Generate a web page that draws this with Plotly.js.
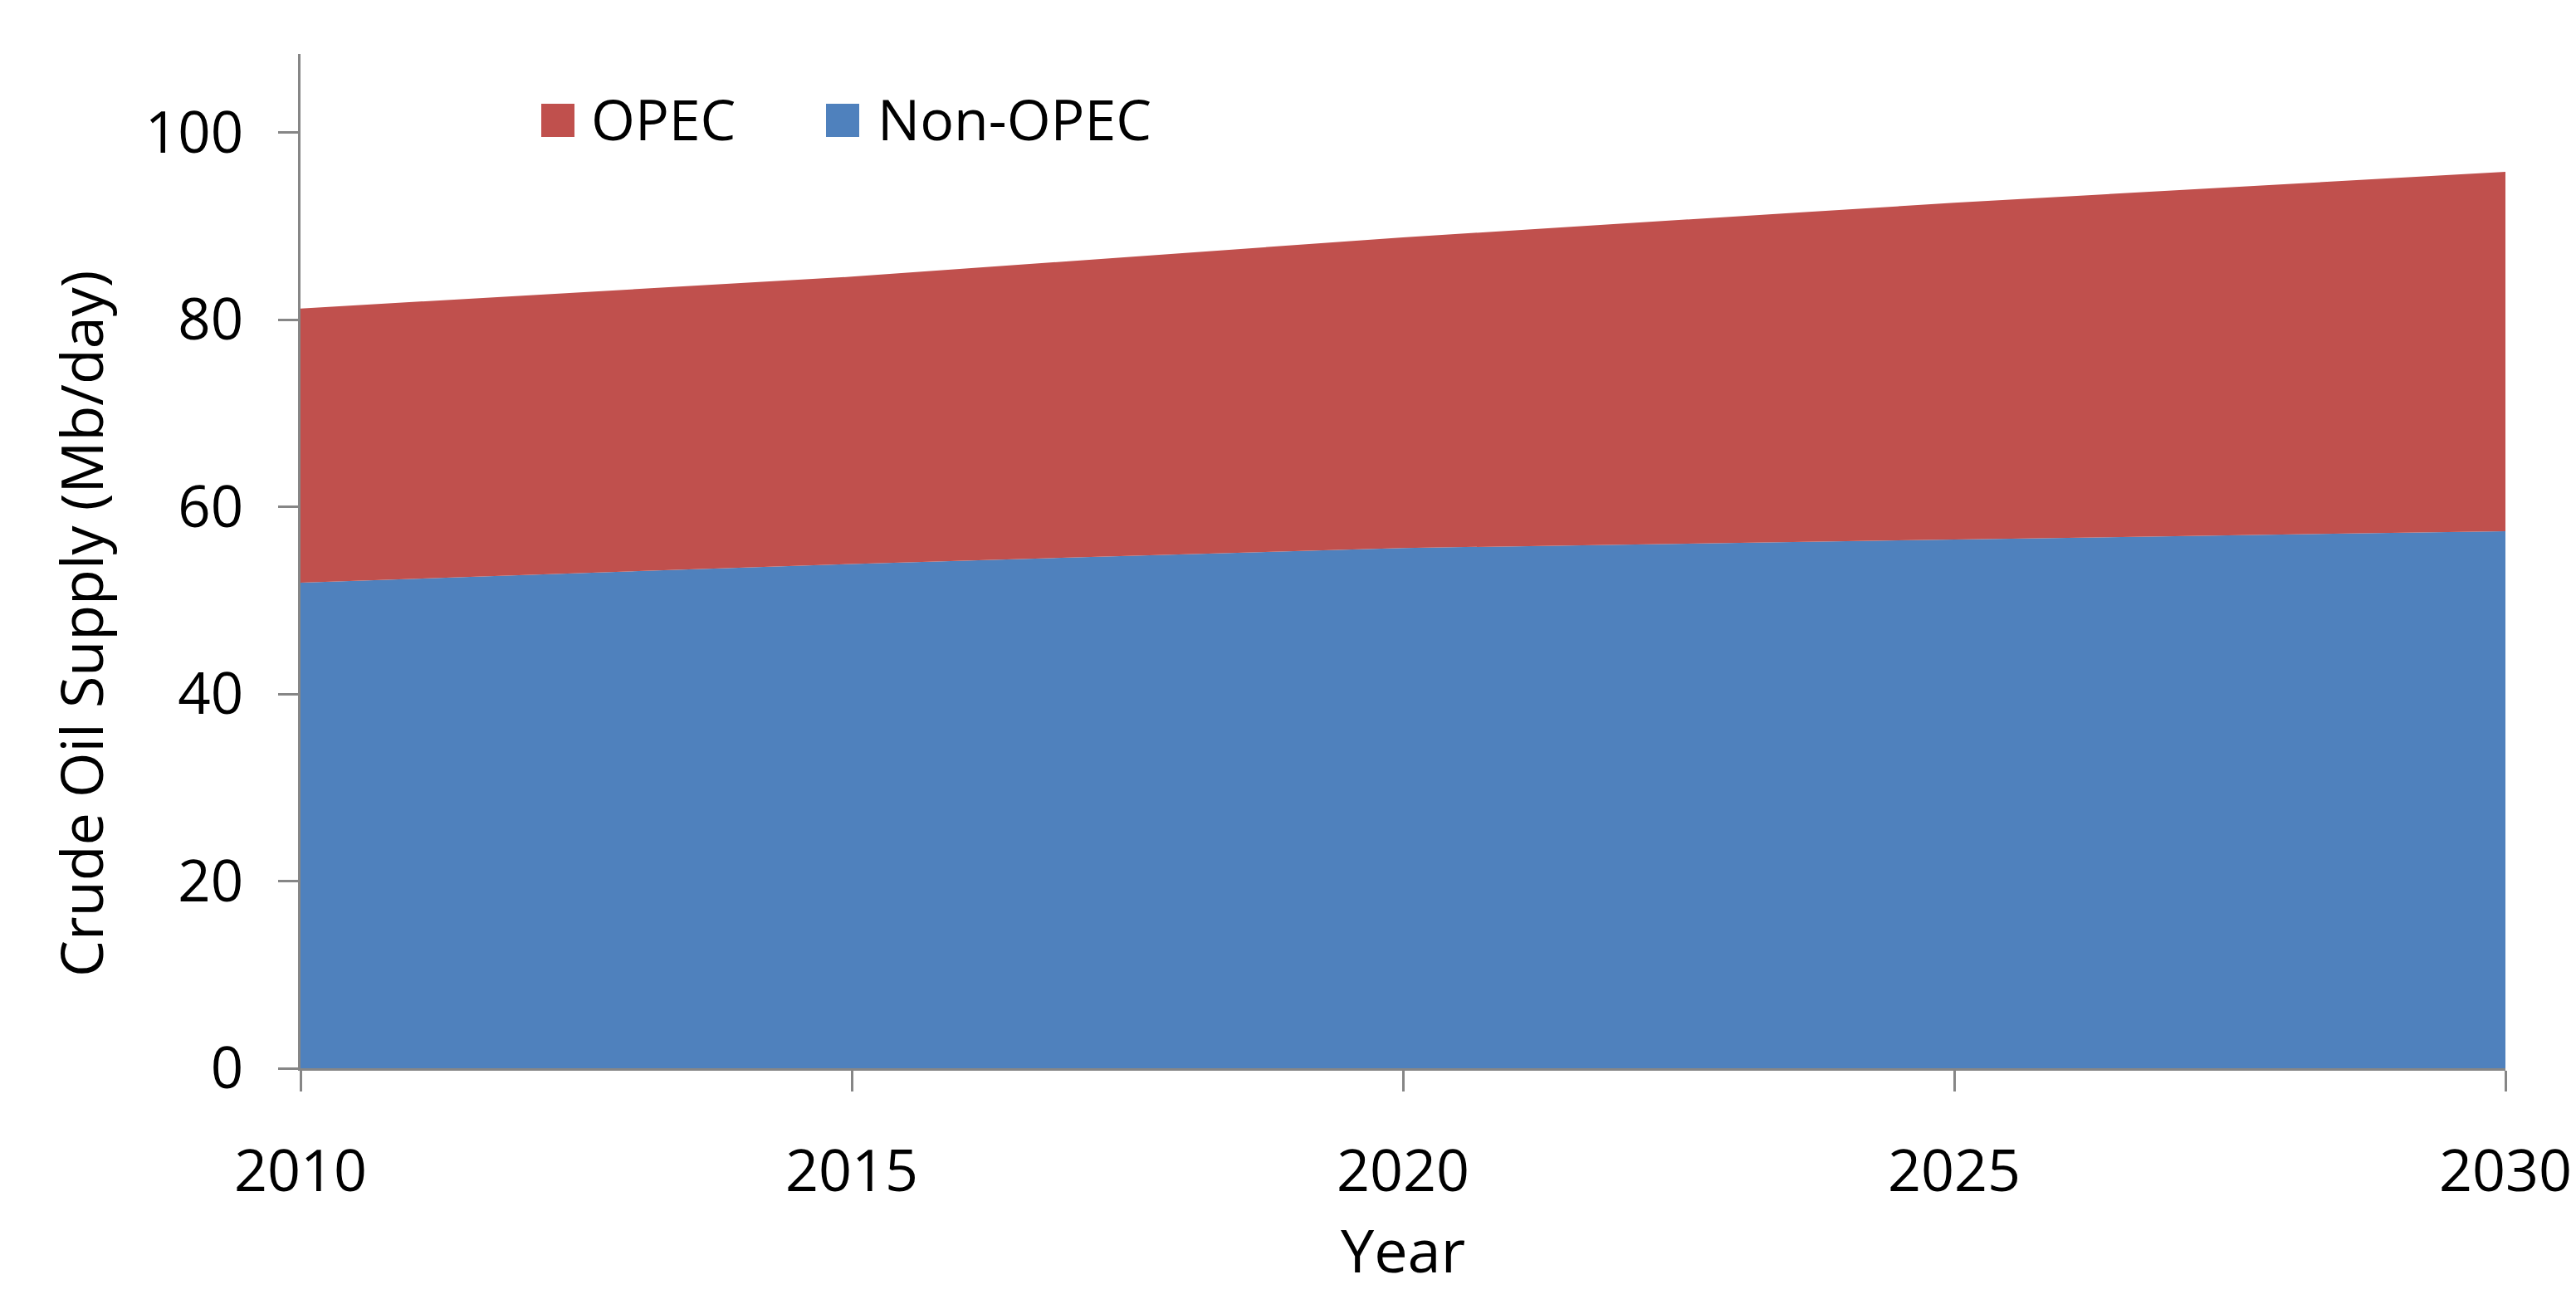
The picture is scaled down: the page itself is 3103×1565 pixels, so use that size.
<!DOCTYPE html>
<html>
<head>
<meta charset="utf-8">
<script src="https://cdn.plot.ly/plotly-3.0.1.min.js"></script>
<style>
  html, body { margin: 0; padding: 0; background: #ffffff; }
  #chart { width: 3103px; height: 1565px; }
</style>
</head>
<body>
<div id="chart"></div>
<script>
// ---- data ----
const years = [2010, 2015, 2020, 2025, 2030];
const nonOpec = [51.9, 53.9, 55.6, 56.5, 57.4];   // Mb/day
const opec = [29.3, 30.7, 33.2, 36.0, 38.4];      // Mb/day (stacked on top)
const seriesNames = ["Non-OPEC", "OPEC"];
const yTickVals = [0, 20, 40, 60, 80, 100];
const xTickVals = [2010, 2015, 2020, 2025, 2030];

const FONT = "Open Sans, Noto Sans, sans-serif";
const BLUE = "#4F81BD";
const RED = "#C0504D";
const AXIS = "#868686";

const traces = [
  {
    x: years, y: nonOpec, name: seriesNames[0], type: "scatter", mode: "lines",
    stackgroup: "one", fillcolor: BLUE, line: { width: 0, color: BLUE },
    hoverinfo: "x+y+name"
  },
  {
    x: years, y: opec, name: seriesNames[1], type: "scatter", mode: "lines",
    stackgroup: "one", fillcolor: RED, line: { width: 0, color: RED },
    hoverinfo: "x+y+name"
  }
];

// plot area in pixels (from reference): x 362..3018, y 65..1287
const L = 362, R = 3018, T = 65, B = 1287;
const W = R - L, H = B - T;
const px = v => (v - L) / W;
const py = v => (B - v) / H;

// manual legend (square swatches like the reference)
const legendItems = [
  { name: seriesNames[1], color: RED, sx: 652, tx: 710 },
  { name: seriesNames[0], color: BLUE, sx: 995, tx: 1055 }
];
const shapes = legendItems.map(it => ({
  type: "rect", xref: "paper", yref: "paper",
  x0: px(it.sx), x1: px(it.sx + 40), y0: py(165), y1: py(125),
  fillcolor: it.color, line: { width: 0 }, layer: "above"
}));
const annotations = legendItems.map(it => ({
  text: it.name, xref: "paper", yref: "paper",
  x: px(it.tx), y: py(143), xanchor: "left", yanchor: "middle",
  showarrow: false, font: { family: FONT, size: 68, color: "#000000" }
}));
annotations.push({
  text: "Crude Oil Supply (Mb/day)", xref: "paper", yref: "paper",
  x: px(97), y: py(752), xanchor: "center", yanchor: "middle",
  textangle: -90, showarrow: false,
  font: { family: FONT, size: 70, color: "#000000" }
});

const layout = {
  width: 3103, height: 1565,
  margin: { l: L, r: 3103 - R, t: T, b: 1565 - B, pad: 0 },
  paper_bgcolor: "#ffffff", plot_bgcolor: "#ffffff",
  showlegend: false,
  font: { family: FONT, color: "#000000" },
  xaxis: {
    range: [2010, 2030], tickvals: xTickVals, ticktext: xTickVals.map(String),
    ticks: "outside", ticklen: 25, tickwidth: 3, tickcolor: AXIS,
    showline: true, linecolor: AXIS, linewidth: 3,
    showgrid: false, zeroline: false,
    tickfont: { family: FONT, size: 70, color: "#000000" },
    ticklabelstandoff: 36,
    title: { text: "Year", font: { family: FONT, size: 72, color: "#000000" }, standoff: 20 }
  },
  yaxis: {
    range: [0, 108.4], tickvals: yTickVals,
    ticks: "outside", ticklen: 24, tickwidth: 3, tickcolor: AXIS,
    showline: true, linecolor: AXIS, linewidth: 3,
    showgrid: false, zeroline: false,
    tickfont: { family: FONT, size: 69, color: "#000000" },
    ticklabelstandoff: 28
  },
  shapes: shapes,
  annotations: annotations
};

Plotly.newPlot("chart", traces, layout, { displayModeBar: false, staticPlot: true });
</script>
</body>
</html>
